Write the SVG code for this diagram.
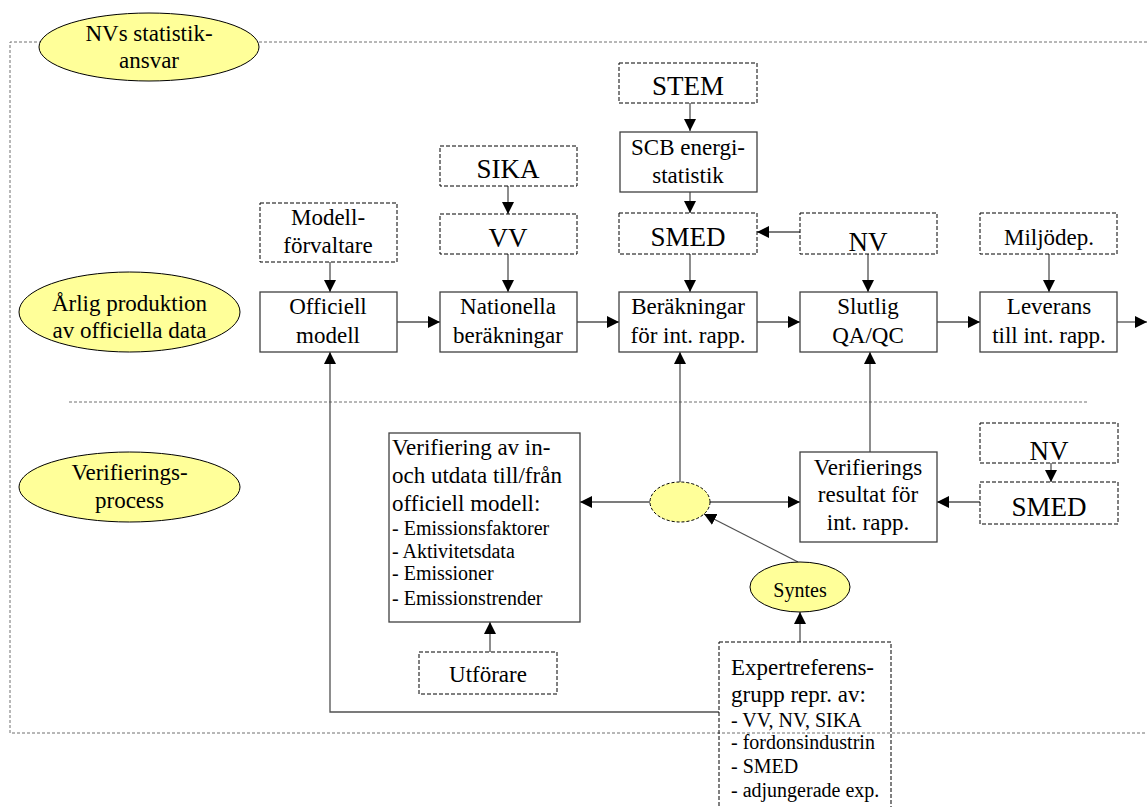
<svg xmlns="http://www.w3.org/2000/svg" width="1147" height="807" viewBox="0 0 1147 807" font-family="'Liberation Serif', 'Times New Roman', Tinos, 'DejaVu Serif', serif">
<style>
text{font-family:'Liberation Serif','Times New Roman',Tinos,'DejaVu Serif',serif;fill:#000;text-anchor:middle;font-size:23px}
.big{font-size:27px}
.sm{font-size:20px}
.left{text-anchor:start}
.box{fill:#fff;stroke:#404040;stroke-width:1.3}
.dbox{fill:#fff;stroke:#000;stroke-width:1;stroke-dasharray:4,2}
.ell{fill:#ffff99;stroke:#000;stroke-width:1}
.conn{fill:none;stroke:#505050;stroke-width:1.3;marker-end:url(#ah)}
.frame{fill:none;stroke:#707070;stroke-width:1;stroke-dasharray:3,2}
</style>
<defs>
<marker id="ah" markerUnits="userSpaceOnUse" markerWidth="12" markerHeight="12" refX="12" refY="6" orient="auto">
<path d="M0,0 L12,6 L0,12 z" fill="#000"/>
</marker>
</defs>
<rect width="1147" height="807" fill="#fff"/>
<g id="frame">
<path class="frame" d="M1147,42 H10 V733 H1147"/>
<path class="frame" d="M69,402 H1088"/>
</g>
<g id="connectors">
<path class="conn" d="M690,103 V131"/>
<path class="conn" d="M690,192 V213"/>
<path class="conn" d="M508,186 V214"/>
<path class="conn" d="M508,254 V292"/>
<path class="conn" d="M330,262 V292"/>
<path class="conn" d="M690,254 V292"/>
<path class="conn" d="M800,232 H757"/>
<path class="conn" d="M868,254 V292"/>
<path class="conn" d="M1049,254 V292"/>
<path class="conn" d="M397,322 H440"/>
<path class="conn" d="M577,322 H619"/>
<path class="conn" d="M757,322 H800"/>
<path class="conn" d="M937,322 H980"/>
<path class="conn" d="M1117,322 H1147"/>
<path class="conn" d="M680,482 V352"/>
<path class="conn" d="M870,452 V352"/>
<path class="conn" d="M650,502 H580"/>
<path class="conn" d="M710,502 H800"/>
<path class="conn" d="M980,502 H937"/>
<path class="conn" d="M1051,463 V482"/>
<path class="conn" d="M798,562 L704,514"/>
<path class="conn" d="M800,642 V612"/>
<path class="conn" d="M490,652 V622"/>
<path class="conn" d="M719,712 H330 V352"/>
</g>
<g id="nvs"><ellipse class="ell" cx="149" cy="47" rx="110" ry="34"/><text x="149" y="41">NVs statistik-</text><text x="149" y="68">ansvar</text></g>
<g id="arlig"><ellipse class="ell" cx="129.5" cy="312" rx="110.5" ry="40"/><text x="129.5" y="311">Årlig produktion</text><text x="129.5" y="338">av officiella data</text></g>
<g id="verifprocess"><ellipse class="ell" cx="129.5" cy="487" rx="110.5" ry="35"/><text x="129.5" y="480">Verifierings-</text><text x="129.5" y="508">process</text></g>
<g id="stem"><rect class="dbox" x="619" y="63" width="138" height="40"/><text class="big" x="688" y="95">STEM</text></g>
<g id="scb"><rect class="box" x="620" y="132" width="137" height="60"/><text x="688" y="155">SCB energi-</text><text x="688" y="183">statistik</text></g>
<g id="sika"><rect class="dbox" x="440" y="146" width="137" height="40"/><text class="big" x="508" y="178">SIKA</text></g>
<g id="vv"><rect class="dbox" x="440" y="214" width="137" height="40"/><text class="big" x="508" y="247">VV</text></g>
<g id="modell"><rect class="dbox" x="260" y="203" width="137" height="59"/><text x="328" y="225">Modell-</text><text x="328" y="253">förvaltare</text></g>
<g id="smed1"><rect class="dbox" x="619" y="213" width="138" height="41"/><text class="big" x="688" y="246">SMED</text></g>
<g id="nv1"><rect class="dbox" x="800" y="213" width="137" height="41"/><text class="big" x="868" y="251">NV</text></g>
<g id="miljodep"><rect class="dbox" x="980" y="213" width="137" height="41"/><text x="1049" y="245">Miljödep.</text></g>
<g id="officiell"><rect class="box" x="260" y="292" width="137" height="60"/><text x="328" y="314">Officiell</text><text x="328" y="343">modell</text></g>
<g id="nationella"><rect class="box" x="440" y="292" width="137" height="60"/><text x="508" y="314">Nationella</text><text x="508" y="343">beräkningar</text></g>
<g id="berakningar"><rect class="box" x="619" y="292" width="138" height="60"/><text x="688" y="314">Beräkningar</text><text x="688" y="343">för int. rapp.</text></g>
<g id="slutlig"><rect class="box" x="800" y="292" width="137" height="60"/><text x="868" y="314">Slutlig</text><text x="868" y="343">QA/QC</text></g>
<g id="leverans"><rect class="box" x="980" y="292" width="137" height="60"/><text x="1049" y="314">Leverans</text><text x="1049" y="343">till int. rapp.</text></g>
<g id="verifiering"><rect class="box" x="389" y="433" width="191" height="189"/>
<text class="left" x="392" y="455">Verifiering av in-</text>
<text class="left" x="392" y="483">och utdata till/från</text>
<text class="left" x="392" y="511">officiell modell:</text>
<text class="left sm" x="392" y="535">- Emissionsfaktorer</text>
<text class="left sm" x="392" y="558">- Aktivitetsdata</text>
<text class="left sm" x="392" y="580">- Emissioner</text>
<text class="left sm" x="392" y="605">- Emissionstrender</text></g>
<g id="hub"><ellipse cx="680" cy="502" rx="30" ry="20" fill="#ffff99" stroke="#000" stroke-width="1" stroke-dasharray="3,2"/></g>
<g id="verifresultat"><rect class="box" x="800" y="452" width="137" height="90"/><text x="868" y="475">Verifierings</text><text x="868" y="502">resultat för</text><text x="868" y="530">int. rapp.</text></g>
<g id="nv2"><rect class="dbox" x="980" y="423" width="138" height="40"/><text class="big" x="1049" y="460">NV</text></g>
<g id="smed2"><rect class="dbox" x="980" y="482" width="138" height="42"/><text class="big" x="1049" y="516">SMED</text></g>
<g id="syntes"><ellipse class="ell" cx="800" cy="587" rx="50" ry="25"/><text class="sm" x="800" y="597">Syntes</text></g>
<g id="utforare"><rect class="dbox" x="419" y="652" width="138" height="42"/><text x="488" y="682">Utförare</text></g>
<g id="expert"><rect class="dbox" x="719" y="642" width="172" height="180" style="fill:none"/>
<text class="left" x="731" y="675">Expertreferens-</text>
<text class="left" x="731" y="702">grupp repr. av:</text>
<text class="left sm" x="731" y="727">- VV, NV, SIKA</text>
<text class="left sm" x="731" y="749">- fordonsindustrin</text>
<text class="left sm" x="731" y="773">- SMED</text>
<text class="left sm" x="731" y="797">- adjungerade exp.</text></g>
</svg>
